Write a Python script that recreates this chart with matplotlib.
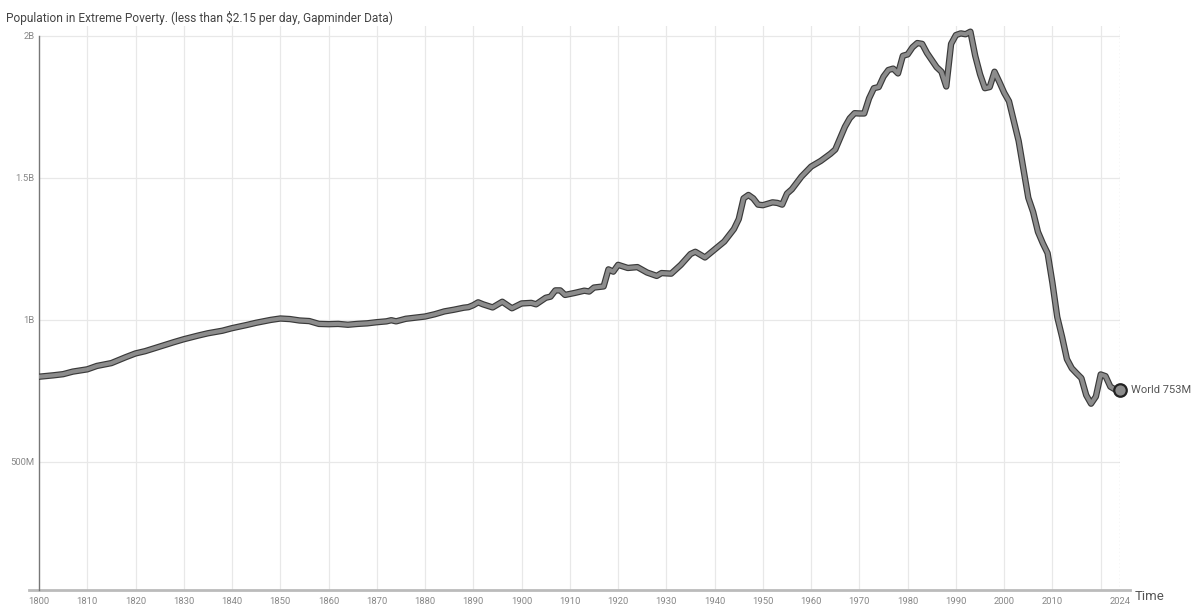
import numpy as np
import matplotlib.pyplot as plt

plt.rcParams['font.family'] = ['Roboto', 'DejaVu Sans']

# Population in extreme poverty (billions)
anos = [1800, 1803, 1805, 1807, 1810, 1812, 1815, 1817, 1818, 1820, 1822, 1825, 1828, 1830,
        1833, 1835, 1838, 1840, 1843, 1845, 1848, 1850, 1852, 1854, 1856, 1858, 1860, 1862,
        1864, 1866, 1868, 1870, 1872, 1873, 1874, 1876, 1878, 1880, 1882, 1884, 1886, 1888,
        1889, 1890, 1891, 1892, 1894, 1896, 1898, 1900, 1902, 1903, 1905, 1906, 1907, 1908,
        1909, 1911, 1913, 1914, 1915, 1917, 1918, 1919, 1920, 1922, 1924, 1926, 1928, 1929,
        1931, 1933, 1935, 1936, 1938, 1940, 1942, 1944, 1945, 1946, 1947, 1948, 1949, 1950,
        1952, 1953, 1954, 1955, 1956, 1958, 1960, 1962, 1964, 1965, 1966, 1967, 1968, 1969,
        1970, 1971, 1972, 1973, 1974, 1975, 1976, 1977, 1978, 1979, 1980, 1981, 1982, 1983,
        1984, 1986, 1987, 1988, 1989, 1990, 1991, 1992, 1993, 1994, 1995, 1996, 1997, 1998,
        1999, 2000, 2001, 2002, 2003, 2004, 2005, 2006, 2007, 2008, 2009, 2010, 2011, 2012,
        2013, 2014, 2015, 2016, 2017, 2018, 2019, 2020, 2021, 2022, 2023, 2024]
pobreza = [0.800, 0.805, 0.809, 0.818, 0.826, 0.838, 0.848, 0.862, 0.869, 0.882, 0.890, 0.906,
           0.922, 0.932, 0.945, 0.953, 0.962, 0.971, 0.982, 0.990, 1.000, 1.005, 1.003, 0.998,
           0.996, 0.986, 0.985, 0.986, 0.983, 0.986, 0.988, 0.992, 0.995, 0.999, 0.995, 1.004,
           1.008, 1.012, 1.020, 1.030, 1.036, 1.043, 1.045, 1.052, 1.062, 1.055, 1.044, 1.064,
           1.041, 1.058, 1.060, 1.055, 1.078, 1.082, 1.104, 1.104, 1.088, 1.095, 1.103, 1.100,
           1.114, 1.118, 1.178, 1.170, 1.194, 1.183, 1.186, 1.167, 1.155, 1.165, 1.163, 1.194,
           1.232, 1.240, 1.220, 1.248, 1.276, 1.320, 1.355, 1.428, 1.440, 1.428, 1.406, 1.404,
           1.414, 1.412, 1.406, 1.445, 1.460, 1.505, 1.540, 1.560, 1.585, 1.600, 1.640, 1.680,
           1.710, 1.728, 1.727, 1.727, 1.780, 1.816, 1.820, 1.857, 1.880, 1.885, 1.868, 1.930,
           1.935, 1.960, 1.975, 1.972, 1.940, 1.890, 1.874, 1.822, 1.972, 2.003, 2.009, 2.006,
           2.015, 1.930, 1.865, 1.816, 1.820, 1.874, 1.838, 1.800, 1.770, 1.700, 1.630, 1.530,
           1.430, 1.380, 1.310, 1.270, 1.235, 1.130, 1.010, 0.940, 0.862, 0.830, 0.812, 0.795,
           0.735, 0.705, 0.730, 0.808, 0.802, 0.765, 0.755, 0.753]

y_ticks = [0.5, 1.0, 1.5, 2.0]
y_labels = ['500M', '1B', '1.5B', '2B']
x_ticks = list(range(1800, 2020, 10)) + [2024]
x_grid = list(range(1810, 2030, 10))

fig = plt.figure(figsize=(12, 6.07), dpi=100)
ax = fig.add_axes([39/1200, 17/607, (1120-39)/1200, (590-26)/607])
ax.set_xlim(1800, 2024)
ax.set_ylim(0.049, 2.035)

for a in x_grid:
    ax.axvline(a, color='#e8e8e8', lw=0.9, zorder=0)
for v in y_ticks:
    ax.axhline(v, color='#e8e8e8', lw=0.9, zorder=0)
ax.axvline(2024, color='#bbbbbb', lw=0.9, ls=(0, (1, 2)), zorder=0)

# linha com contorno escuro
ax.plot(anos, pobreza, color='#3a3a3a', lw=4.6, solid_capstyle='round', solid_joinstyle='round', zorder=3)
ax.plot(anos, pobreza, color='#8c8c8c', lw=2.9, solid_capstyle='round', solid_joinstyle='round', zorder=4)
ax.plot([anos[-1]], [pobreza[-1]], 'o', ms=9, mfc='#8c8c8c', mec='#222222', mew=1.6, zorder=5,
        clip_on=False)
ax.text(anos[-1] + 2.2, pobreza[-1], f'World {round(pobreza[-1]*1000)}M', fontsize=8,
        color='#555555', va='center', ha='left')

for s in ['top', 'right', 'bottom']:
    ax.spines[s].set_visible(False)
ax.spines['left'].set_color('#777777')
ax.spines['left'].set_linewidth(1.0)
ax.spines['left'].set_bounds(0.049, 2.0)
ax.plot([1798, 2026], [0.049, 0.049], color='#bbbbbb', lw=2, clip_on=False, zorder=2)

ax.set_yticks(y_ticks)
ax.set_yticklabels(y_labels)
ax.set_xticks(x_ticks)
ax.set_xticklabels([str(a) for a in x_ticks])
ax.tick_params(axis='both', length=0, labelsize=6.8, colors='#888888')
ax.tick_params(axis='y', pad=3)
ax.tick_params(axis='x', pad=5)

fig.text(1135/1200, 1 - 597/607, 'Time', fontsize=9.5, color='#555555', va='center', ha='left')
fig.text(6/1200, 1 - 18/607, 'Population in Extreme Poverty. (less than \\$2.15 per day, Gapminder Data)',
         fontsize=8.6, color='#444444', va='center', ha='left')

fig.savefig('out.png', dpi=100)
